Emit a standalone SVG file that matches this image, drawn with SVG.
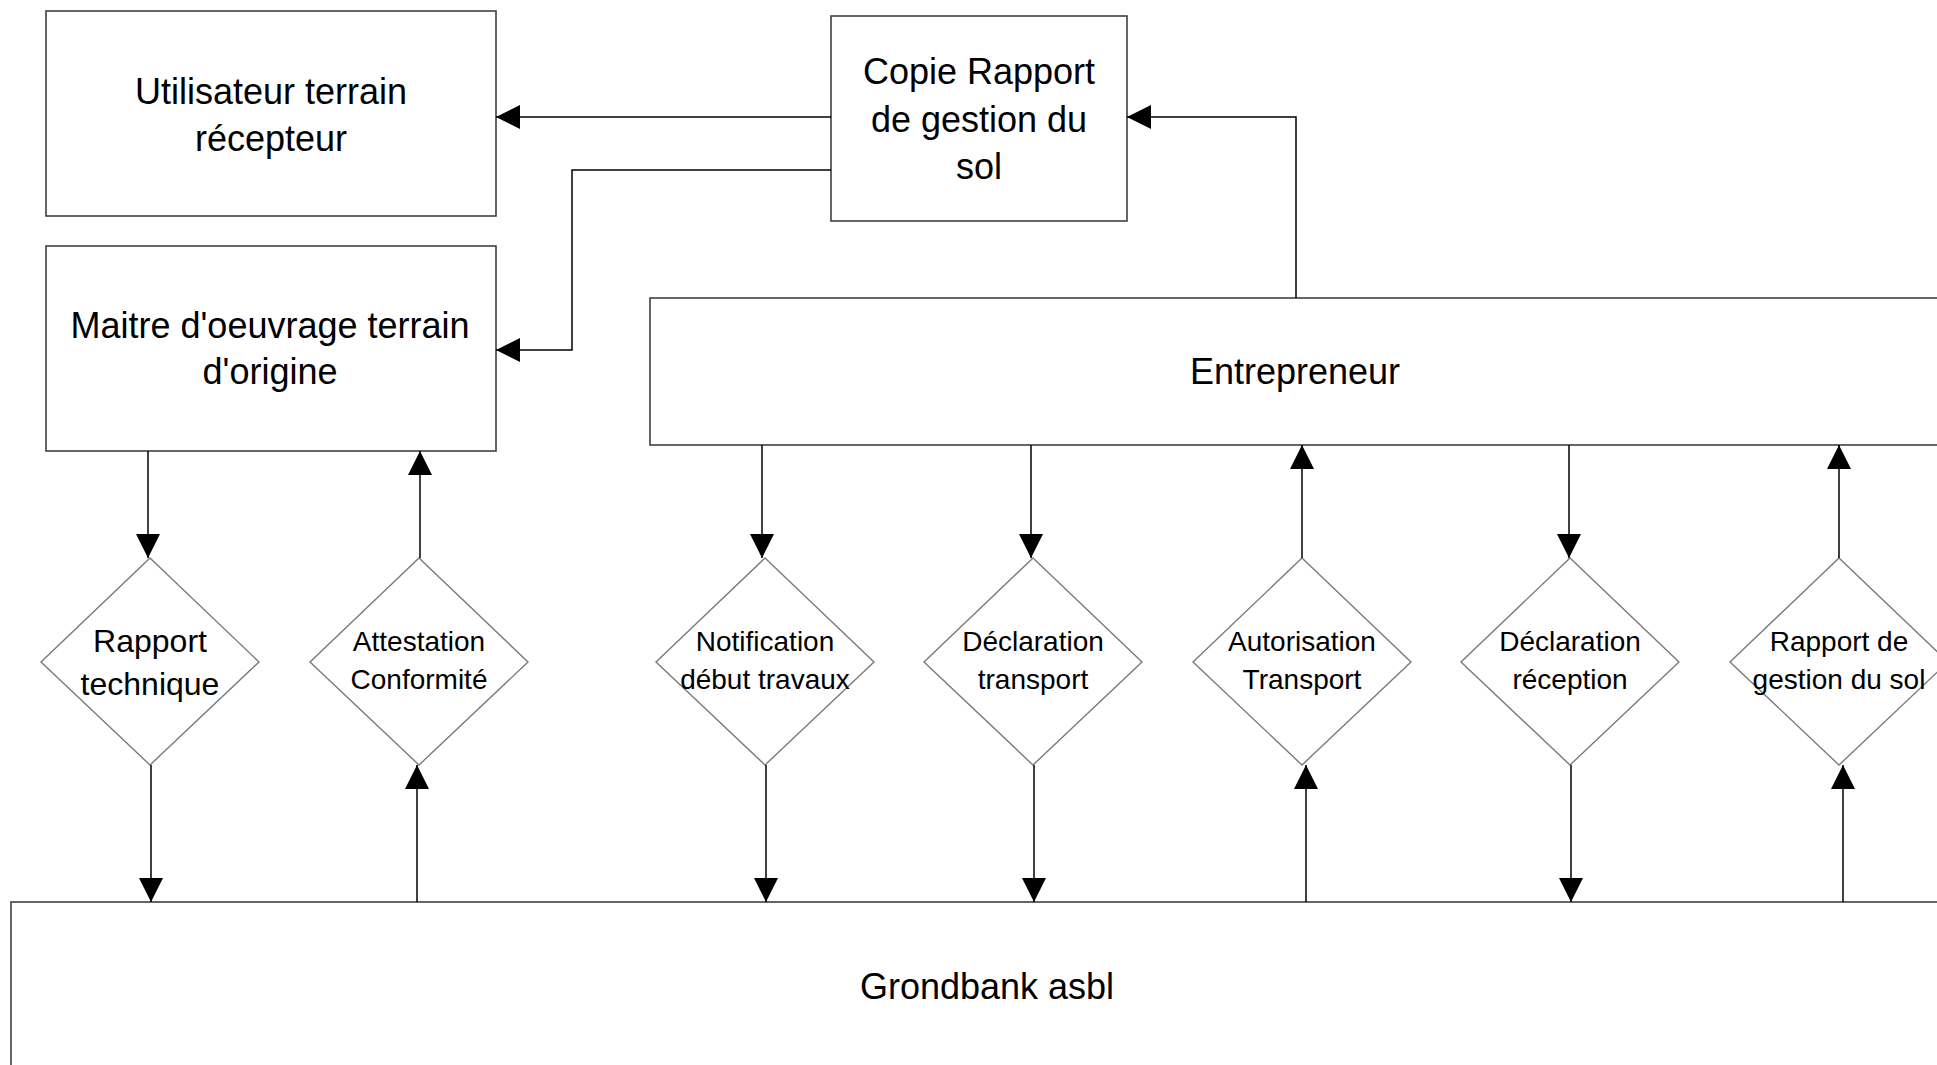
<svg xmlns="http://www.w3.org/2000/svg" width="1937" height="1065" viewBox="0 0 1937 1065">
<style>
.box{fill:#fff;stroke:#404040;stroke-width:1.6}
.dia{fill:#fff;stroke:#7a7a7a;stroke-width:1.4}
.big{font-family:"Liberation Sans",Arial,sans-serif;font-size:36px;fill:#000;text-anchor:middle}
.sm{font-family:"Liberation Sans",Arial,sans-serif;font-size:28px;fill:#000;text-anchor:middle}
.md{font-family:"Liberation Sans",Arial,sans-serif;font-size:32px;fill:#000;text-anchor:middle}
.c{fill:none;stroke:#000;stroke-width:1.5;marker-end:url(#ah)}
</style>
<defs>
<marker id="ah" markerUnits="userSpaceOnUse" markerWidth="24" markerHeight="24" refX="24" refY="12" orient="auto">
<path d="M0,0 L24,12 L0,24 z" fill="#000"/>
</marker>
</defs>
<rect width="1937" height="1065" fill="#fff"/>

<g id="grondbank">
<rect class="box" x="11" y="902" width="1952" height="180"/>
<text class="big" x="987" y="999">Grondbank asbl</text>
</g>

<g id="utilisateur">
<rect class="box" x="46" y="11" width="450" height="205"/>
<text class="big" x="271" y="104">Utilisateur terrain</text>
<text class="big" x="271" y="151">récepteur</text>
</g>

<g id="maitre">
<rect class="box" x="46" y="246" width="450" height="205"/>
<text class="big" x="270" y="338">Maitre d'oeuvrage terrain</text>
<text class="big" x="270" y="384">d'origine</text>
</g>

<g id="copie">
<rect class="box" x="831" y="16" width="296" height="205"/>
<text class="big" x="979" y="84">Copie Rapport</text>
<text class="big" x="979" y="132">de gestion du</text>
<text class="big" x="979" y="179">sol</text>
</g>

<g id="entrepreneur">
<rect class="box" x="650" y="298" width="1290" height="147"/>
<text class="big" x="1295" y="384">Entrepreneur</text>
</g>

<g id="d1">
<polygon class="dia" points="150,558 259,662 150,765 41,662"/>
<text class="md" x="150" y="652">Rapport</text>
<text class="md" x="150" y="695">technique</text>
</g>
<g id="d2">
<polygon class="dia" points="419,558 528,662 419,765 310,662"/>
<text class="sm" x="419" y="651">Attestation</text>
<text class="sm" x="419" y="689">Conformité</text>
</g>
<g id="d3">
<polygon class="dia" points="765,558 874,662 765,765 656,662"/>
<text class="sm" x="765" y="651">Notification</text>
<text class="sm" x="765" y="689">début travaux</text>
</g>
<g id="d4">
<polygon class="dia" points="1033,558 1142,662 1033,765 924,662"/>
<text class="sm" x="1033" y="651">Déclaration</text>
<text class="sm" x="1033" y="689">transport</text>
</g>
<g id="d5">
<polygon class="dia" points="1302,558 1411,662 1302,765 1193,662"/>
<text class="sm" x="1302" y="651">Autorisation</text>
<text class="sm" x="1302" y="689">Transport</text>
</g>
<g id="d6">
<polygon class="dia" points="1570,558 1679,662 1570,765 1461,662"/>
<text class="sm" x="1570" y="651">Déclaration</text>
<text class="sm" x="1570" y="689">réception</text>
</g>
<g id="d7">
<polygon class="dia" points="1839,558 1948,662 1839,765 1730,662"/>
<text class="sm" x="1839" y="651">Rapport de</text>
<text class="sm" x="1839" y="689">gestion du sol</text>
</g>

<g id="connectors">
<path class="c" d="M831,117 H496"/>
<path class="c" d="M831,170 H572 V350 H496"/>
<path class="c" d="M1296,298 V117 H1127"/>
<path class="c" d="M148,451 V558"/>
<path class="c" d="M420,558 V451"/>
<path class="c" d="M762,445 V558"/>
<path class="c" d="M1031,445 V558"/>
<path class="c" d="M1302,558 V445"/>
<path class="c" d="M1569,445 V558"/>
<path class="c" d="M1839,558 V445"/>
<path class="c" d="M151,765 V902"/>
<path class="c" d="M417,902 V765"/>
<path class="c" d="M766,765 V902"/>
<path class="c" d="M1034,765 V902"/>
<path class="c" d="M1306,902 V765"/>
<path class="c" d="M1571,765 V902"/>
<path class="c" d="M1843,902 V765"/>
</g>
</svg>
